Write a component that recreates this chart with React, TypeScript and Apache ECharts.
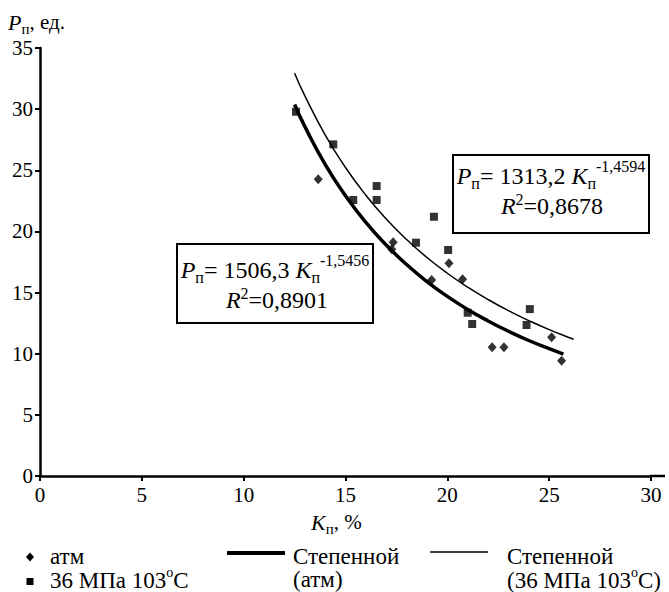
import React, { useEffect, useRef } from 'react';
import * as echarts from 'echarts';

// Measured points: atm
const atmK = [13.66, 17.34, 17.27, 20.08, 20.75, 19.23, 22.2, 22.78, 25.12, 25.61];
const atmP = [24.26, 19.11, 18.54, 17.39, 16.08, 16.03, 10.52, 10.52, 11.34, 9.43];
// Measured points: 36 MPa 103 C
const mpaK = [12.57, 14.4, 16.53, 16.53, 15.38, 19.34, 18.46, 20.04, 21.0, 21.22, 24.05, 23.89];
const mpaP = [29.79, 27.12, 23.71, 22.57, 22.57, 21.2, 19.08, 18.48, 13.35, 12.43, 13.65, 12.35];
// Power trend lines
const fitAtmK = [12.5, 13, 14, 15, 16, 17, 18, 19, 20, 21, 22, 23, 24, 25, 25.7];
const fitAtmP = [30.38, 28.59, 25.49, 22.92, 20.74, 18.89, 17.29, 15.9, 14.69, 13.62, 12.68, 11.84, 11.08, 10.41, 9.97];
const fitMpaK = [12.5, 13, 14, 15, 16, 17, 18, 19, 20, 21, 22, 23, 24, 25, 26, 26.2];
const fitMpaP = [32.93, 31.1, 27.9, 25.23, 22.96, 21.02, 19.34, 17.87, 16.58, 15.44, 14.43, 13.52, 12.71, 11.97, 11.31, 11.18];

const xMin = 0, xMax = 30, xStep = 5;
const yMin = 0, yMax = 35, yStep = 5;

const eqAtm = ['1506,3', '-1,5456', '0,8901'];
const eqMpa = ['1313,2', '-1,4594', '0,8678'];
const legendNames = ['атм', '36 МПа 103', 'Степенной', '(атм)', '(36 МПа 103'];

const serif = 'Liberation Serif, Times New Roman, serif';
const BLACK = '#000';

const zip = (a: number[], b: number[]) => a.map((v, i) => [v, b[i]]);

const eqRich: any = {
  i: { fontSize: 24, fontStyle: 'italic', fontFamily: serif, lineHeight: 26, fill: BLACK },
  n: { fontSize: 24, fontFamily: serif, lineHeight: 26, fill: BLACK },
  s: { fontSize: 16, fontFamily: serif, lineHeight: 16, padding: [15, 0, 0, 0], fill: BLACK },
  p: { fontSize: 16, fontFamily: serif, lineHeight: 16, padding: [0, 0, 20, 0], fill: BLACK },
  q: { fontSize: 16, fontFamily: serif, lineHeight: 16, padding: [0, 0, 14, 0], fill: BLACK },
};

const nameRich: any = {
  i: { fontSize: 22, fontStyle: 'italic', fontFamily: serif, lineHeight: 24, fill: BLACK },
  n: { fontSize: 21, fontFamily: serif, lineHeight: 24, fill: BLACK },
  s: { fontSize: 15, fontFamily: serif, lineHeight: 15, padding: [14, 0, 0, 0], fill: BLACK },
};

const legRich: any = {
  n: { fontSize: 23, fontFamily: serif, lineHeight: 22, fill: BLACK },
  d: { fontSize: 14, fontFamily: serif, lineHeight: 14, padding: [0, 0, 16, 0], fill: BLACK },
};

function txt(x: number, y: number, text: string, rich: any, align = 'left') {
  return {
    type: 'text',
    x,
    y,
    z: 10,
    style: {
      x: 0,
      y: 0,
      text,
      rich,
      align,
      verticalAlign: 'middle',
      fill: BLACK,
      fontFamily: serif,
      fontSize: 23,
    },
  };
}

export default function App() {
  const ref = useRef<HTMLDivElement>(null);
  useEffect(() => {
    if (!ref.current) return;
    const chart = echarts.init(ref.current, undefined, { renderer: 'svg' });
    const axisCommon = {
      type: 'value',
      axisLine: { show: true, lineStyle: { color: BLACK, width: 2.5 } },
      axisTick: { show: true, inside: false, length: 5, lineStyle: { color: BLACK, width: 2 } },
      splitLine: { show: false },
    };
    chart.setOption({
      animation: false,
      backgroundColor: '#fff',
      textStyle: { fontFamily: serif },
      grid: { left: 40, top: 48, width: 611, height: 428, containLabel: false },
      xAxis: { ...axisCommon, min: xMin, max: xMax, interval: xStep, axisLabel: { color: BLACK, fontSize: 21, fontFamily: serif, margin: 8 } },
      yAxis: { ...axisCommon, min: yMin, max: yMax, interval: yStep, axisLabel: { color: BLACK, fontSize: 21, fontFamily: serif, margin: 7 } },
      series: [
        {
          type: 'line', data: zip(fitAtmK, fitAtmP), smooth: true, showSymbol: false,
          lineStyle: { color: BLACK, width: 3.5 }, z: 2,
        },
        {
          type: 'line', data: zip(fitMpaK, fitMpaP), smooth: true, showSymbol: false,
          lineStyle: { color: BLACK, width: 1.5 }, z: 2,
        },
        {
          type: 'scatter', data: zip(atmK, atmP), symbol: 'diamond', symbolSize: [9, 10],
          itemStyle: { color: BLACK }, z: 3,
        },
        {
          type: 'scatter', data: zip(mpaK, mpaP), symbol: 'rect', symbolSize: 8,
          itemStyle: { color: BLACK }, z: 3,
        },
      ],
      graphic: [
        // axis line runs slightly past 30
        { type: 'line', shape: { x1: 650, y1: 476, x2: 665, y2: 476 }, style: { stroke: BLACK, lineWidth: 2.5 } },
        // axis names
        txt(8, 22, '{i|P}{s|п}{n|, ед.}', nameRich),
        txt(311, 522, '{i|K}{s|п}{n|, %}', nameRich),
        // equation boxes
        { type: 'rect', shape: { x: 177, y: 244, width: 196, height: 79 }, style: { fill: '#fff', stroke: BLACK, lineWidth: 2 }, z: 5 },
        txt(275, 270, `{i|P}{s|п}{n|= ${eqAtm[0]} }{i|K}{s|п}{p|${eqAtm[1]}}`, eqRich, 'center'),
        txt(277, 300, `{i|R}{q|2}{n|=${eqAtm[2]}}`, eqRich, 'center'),
        { type: 'rect', shape: { x: 453, y: 155, width: 196, height: 78 }, style: { fill: '#fff', stroke: BLACK, lineWidth: 2 }, z: 5 },
        txt(551, 176, `{i|P}{s|п}{n|= ${eqMpa[0]} }{i|K}{s|п}{p|${eqMpa[1]}}`, eqRich, 'center'),
        txt(552, 206, `{i|R}{q|2}{n|=${eqMpa[2]}}`, eqRich, 'center'),
        // legend
        { type: 'polygon', shape: { points: [[30, 552.5], [34, 557], [30, 561.5], [26, 557]] }, style: { fill: BLACK } },
        txt(50, 556, `{n|${legendNames[0]}}`, legRich),
        { type: 'rect', shape: { x: 26.5, y: 578, width: 7, height: 7 }, style: { fill: BLACK } },
        txt(50, 580, `{n|${legendNames[1]}}{d|o}{n|C}`, legRich),
        { type: 'line', shape: { x1: 227, y1: 553, x2: 285, y2: 553 }, style: { stroke: BLACK, lineWidth: 4 } },
        txt(293, 556, `{n|${legendNames[2]}}`, legRich),
        txt(293, 579, `{n|${legendNames[3]}}`, legRich),
        { type: 'line', shape: { x1: 430, y1: 552, x2: 488, y2: 552 }, style: { stroke: BLACK, lineWidth: 1.5 } },
        txt(507, 556, `{n|${legendNames[2]}}`, legRich),
        txt(507, 580, `{n|${legendNames[4]}}{d|o}{n|C)}`, legRich),
      ],
    });
    return () => chart.dispose();
  }, []);
  return (
    <div
      ref={ref}
      style={{ position: 'fixed', left: 0, top: 0, width: 669, height: 592, background: '#fff' }}
    />
  );
}
